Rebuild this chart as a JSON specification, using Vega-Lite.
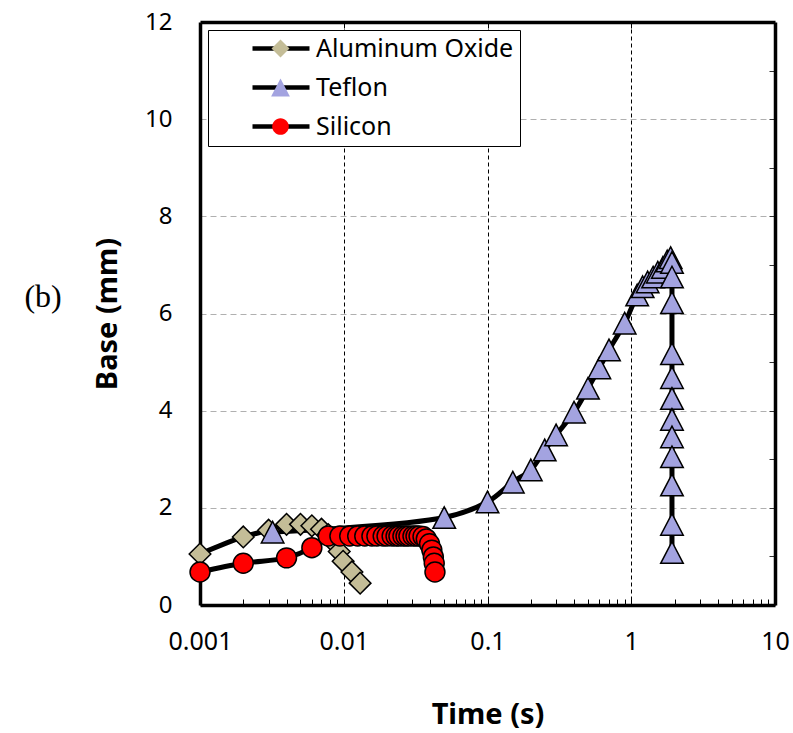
{
  "$schema": "https://vega.github.io/schema/vega-lite/v6.json",
  "width": 575,
  "height": 583,
  "autosize": {"type": "none"},
  "padding": {"left": 200, "top": 22, "right": 18, "bottom": 128},
  "background": "white",
  "config": {"view": {"stroke": null}, "font": "Noto Sans"},
  "title": {"text": "(b)", "orient": "left", "anchor": "middle", "angle": 0, "font": "Liberation Serif", "fontSize": 32, "fontWeight": "normal", "color": "black", "offset": -6, "baseline": "middle", "align": "right", "dy": -17},
  "data": {"values": [
    {"material": "Aluminum Oxide", "order": 1, "t": 0.001, "base": 1.05},
    {"material": "Aluminum Oxide", "order": 2, "t": 0.002, "base": 1.40},
    {"material": "Aluminum Oxide", "order": 3, "t": 0.003, "base": 1.54},
    {"material": "Aluminum Oxide", "order": 4, "t": 0.004, "base": 1.66},
    {"material": "Aluminum Oxide", "order": 5, "t": 0.005, "base": 1.66},
    {"material": "Aluminum Oxide", "order": 6, "t": 0.006, "base": 1.63},
    {"material": "Aluminum Oxide", "order": 7, "t": 0.007, "base": 1.56},
    {"material": "Aluminum Oxide", "order": 8, "t": 0.0078, "base": 1.45},
    {"material": "Aluminum Oxide", "order": 9, "t": 0.0086, "base": 1.28},
    {"material": "Aluminum Oxide", "order": 10, "t": 0.0093, "base": 1.1},
    {"material": "Aluminum Oxide", "order": 11, "t": 0.0099, "base": 0.9},
    {"material": "Aluminum Oxide", "order": 12, "t": 0.0114, "base": 0.68},
    {"material": "Aluminum Oxide", "order": 13, "t": 0.013, "base": 0.45},
    {"material": "Teflon", "order": 1, "t": 0.0032, "base": 1.5},
    {"material": "Teflon", "order": 2, "t": 0.05, "base": 1.8},
    {"material": "Teflon", "order": 3, "t": 0.1, "base": 2.12},
    {"material": "Teflon", "order": 4, "t": 0.15, "base": 2.53},
    {"material": "Teflon", "order": 5, "t": 0.2, "base": 2.78},
    {"material": "Teflon", "order": 6, "t": 0.25, "base": 3.19},
    {"material": "Teflon", "order": 7, "t": 0.3, "base": 3.5},
    {"material": "Teflon", "order": 8, "t": 0.4, "base": 3.97},
    {"material": "Teflon", "order": 9, "t": 0.5, "base": 4.46},
    {"material": "Teflon", "order": 10, "t": 0.6, "base": 4.88},
    {"material": "Teflon", "order": 11, "t": 0.7, "base": 5.25},
    {"material": "Teflon", "order": 12, "t": 0.9, "base": 5.8},
    {"material": "Teflon", "order": 13, "t": 1.1, "base": 6.38},
    {"material": "Teflon", "order": 14, "t": 1.2, "base": 6.55},
    {"material": "Teflon", "order": 15, "t": 1.3, "base": 6.65},
    {"material": "Teflon", "order": 16, "t": 1.42, "base": 6.75},
    {"material": "Teflon", "order": 17, "t": 1.53, "base": 6.85},
    {"material": "Teflon", "order": 18, "t": 1.66, "base": 6.95},
    {"material": "Teflon", "order": 19, "t": 1.78, "base": 7.08},
    {"material": "Teflon", "order": 20, "t": 1.88, "base": 7.15},
    {"material": "Teflon", "order": 21, "t": 1.92, "base": 7.05},
    {"material": "Teflon", "order": 22, "t": 1.92, "base": 6.75},
    {"material": "Teflon", "order": 23, "t": 1.92, "base": 6.22},
    {"material": "Teflon", "order": 24, "t": 1.92, "base": 5.17},
    {"material": "Teflon", "order": 25, "t": 1.92, "base": 4.68},
    {"material": "Teflon", "order": 26, "t": 1.92, "base": 4.25},
    {"material": "Teflon", "order": 27, "t": 1.92, "base": 3.82},
    {"material": "Teflon", "order": 28, "t": 1.92, "base": 3.46},
    {"material": "Teflon", "order": 29, "t": 1.92, "base": 3.05},
    {"material": "Teflon", "order": 30, "t": 1.92, "base": 2.47},
    {"material": "Teflon", "order": 31, "t": 1.92, "base": 1.66},
    {"material": "Teflon", "order": 32, "t": 1.92, "base": 1.08},
    {"material": "Silicon", "order": 1, "t": 0.001, "base": 0.68},
    {"material": "Silicon", "order": 2, "t": 0.002, "base": 0.86},
    {"material": "Silicon", "order": 3, "t": 0.004, "base": 0.97},
    {"material": "Silicon", "order": 4, "t": 0.006, "base": 1.18},
    {"material": "Silicon", "order": 5, "t": 0.0078, "base": 1.42},
    {"material": "Silicon", "order": 6, "t": 0.0094, "base": 1.42},
    {"material": "Silicon", "order": 7, "t": 0.011, "base": 1.42},
    {"material": "Silicon", "order": 8, "t": 0.0125, "base": 1.42},
    {"material": "Silicon", "order": 9, "t": 0.014, "base": 1.42},
    {"material": "Silicon", "order": 10, "t": 0.0157, "base": 1.42},
    {"material": "Silicon", "order": 11, "t": 0.017, "base": 1.42},
    {"material": "Silicon", "order": 12, "t": 0.0188, "base": 1.42},
    {"material": "Silicon", "order": 13, "t": 0.02, "base": 1.42},
    {"material": "Silicon", "order": 14, "t": 0.0217, "base": 1.42},
    {"material": "Silicon", "order": 15, "t": 0.0231, "base": 1.42},
    {"material": "Silicon", "order": 16, "t": 0.0242, "base": 1.42},
    {"material": "Silicon", "order": 17, "t": 0.0258, "base": 1.42},
    {"material": "Silicon", "order": 18, "t": 0.0271, "base": 1.42},
    {"material": "Silicon", "order": 19, "t": 0.0284, "base": 1.42},
    {"material": "Silicon", "order": 20, "t": 0.0303, "base": 1.42},
    {"material": "Silicon", "order": 21, "t": 0.0318, "base": 1.42},
    {"material": "Silicon", "order": 22, "t": 0.0334, "base": 1.42},
    {"material": "Silicon", "order": 23, "t": 0.0356, "base": 1.41},
    {"material": "Silicon", "order": 24, "t": 0.0375, "base": 1.36},
    {"material": "Silicon", "order": 25, "t": 0.0395, "base": 1.26},
    {"material": "Silicon", "order": 26, "t": 0.041, "base": 1.13},
    {"material": "Silicon", "order": 27, "t": 0.042, "base": 0.99},
    {"material": "Silicon", "order": 28, "t": 0.0426, "base": 0.86},
    {"material": "Silicon", "order": 29, "t": 0.0431, "base": 0.68}
  ]},
  "layer": [
    {
      "mark": {"type": "line", "interpolate": "catmull-rom", "strokeWidth": 5},
      "encoding": {
        "x": {"field": "t", "type": "quantitative", "scale": {"type": "log", "domain": [0.001, 10]},
          "axis": {
            "orient": "bottom",
            "values": [0.001, 0.002, 0.003, 0.004, 0.005, 0.006, 0.007, 0.008, 0.009, 0.01, 0.02, 0.03, 0.04, 0.05, 0.06, 0.07, 0.08, 0.09, 0.1, 0.2, 0.3, 0.4, 0.5, 0.6, 0.7, 0.8, 0.9, 1, 2, 3, 4, 5, 6, 7, 8, 9, 10],
            "format": "~g",
            "labelExpr": "(datum.value == 0.001 || datum.value == 0.01 || datum.value == 0.1 || datum.value == 1 || datum.value == 10) ? datum.label : ''",
            "labelFont": "Noto Sans", "labelFontSize": 25, "labelColor": "black", "labelPadding": 30,
            "labelFlush": false, "labelOverlap": false, "labelBound": false,
            "ticks": true, "tickSize": -6, "tickColor": "black", "tickWidth": 1,
            "domain": true, "domainColor": "black", "domainWidth": 3.5,
            "grid": true, "gridColor": "black", "gridDash": [4, 3], "gridWidth": 1,
            "gridOpacity": {"condition": {"test": "datum.value == 0.01 || datum.value == 0.1 || datum.value == 1", "value": 1}, "value": 0},
            "title": "Time (s)", "titleFont": "Noto Sans", "titleFontSize": 29, "titleFontWeight": "bold", "titleColor": "black",
            "titleY": 118, "titleBaseline": "alphabetic"
          }
        },
        "y": {"field": "base", "type": "quantitative", "scale": {"domain": [0, 12]},
          "axis": {
            "orient": "left",
            "values": [0, 2, 4, 6, 8, 10, 12],
            "labelFont": "Noto Sans", "labelFontSize": 24, "labelColor": "black", "labelPadding": 28,
            "ticks": false,
            "domain": true, "domainColor": "black", "domainWidth": 3.5,
            "grid": true, "gridColor": "#b0b0b0", "gridDash": [6, 4], "gridWidth": 1,
            "gridOpacity": {"condition": {"test": "datum.value == 0 || datum.value == 12", "value": 0}, "value": 1},
            "title": "Base (mm)", "titleFont": "Noto Sans", "titleFontSize": 29, "titleFontWeight": "bold", "titleColor": "black",
            "titleX": -84, "titleBaseline": "alphabetic"
          }
        },
        "color": {"field": "material", "type": "nominal",
          "scale": {"domain": ["Silicon", "Teflon", "Aluminum Oxide"], "range": ["black", "black", "black"]},
          "legend": {
            "title": null, "orient": "none", "legendX": 8, "legendY": 8, "padding": 6,
            "strokeColor": "black", "fillColor": "white",
            "labelFont": "Noto Sans", "labelFontSize": 25, "labelColor": "black", "labelOpacity": 0, "labelLimit": 900, "labelOffset": 23,
            "rowPadding": 13, "symbolSize": 400, "symbolOffset": 54, "symbolType": "M-2.8,0H2.9", "symbolStrokeWidth": 4.5,
            "labelExpr": "datum.label == 'Aluminum Oxide' ? '\u00a0\u00a0Aluminum Oxide\u00a0\u00a0\u00a0\u00a0\u00a0\u00a0\u00a0\u00a0\u00a0\u00a0\u00a0\u00a0\u00a0\u00a0\u00a0\u00a0\u00a0\u00a0\u00a0\u00a0\u00a0' : datum.label"
          }
        },
        "order": {"field": "order", "type": "quantitative"}
      }
    },
    {
      "mark": {"type": "point", "filled": true, "stroke": "black", "strokeWidth": 1.5, "opacity": 1, "size": 576},
      "encoding": {
        "x": {"field": "t", "type": "quantitative", "scale": {"type": "log", "domain": [0.001, 10]},
          "axis": {"orient": "top", "values": [0.01, 0.1, 1], "labels": false, "ticks": true, "tickSize": -6, "tickColor": "black", "domain": true, "domainColor": "black", "domainWidth": 3.5, "grid": false, "title": null}
        },
        "y": {"field": "base", "type": "quantitative", "scale": {"domain": [0, 12]},
          "axis": {"orient": "right", "values": [1, 2, 3, 4, 5, 6, 7, 8, 9, 10, 11], "labels": false, "ticks": true, "tickSize": -6, "tickColor": "#333333", "domain": true, "domainColor": "black", "domainWidth": 3.5, "grid": false, "title": null}
        },
        "fill": {"field": "material", "type": "nominal",
          "scale": {"domain": ["Aluminum Oxide", "Teflon", "Silicon"], "range": ["#C4BD97", "#A3A3E0", "#FF0000"]},
          "legend": {
            "title": null, "orient": "none", "legendX": 8, "legendY": 8, "padding": 6,
            "labelFont": "Noto Sans", "labelFontSize": 25, "labelColor": "black", "labelLimit": 900, "labelOffset": 23,
            "rowPadding": 13, "symbolSize": 400, "symbolOffset": 54, "symbolStrokeWidth": 1.5, "symbolStrokeColor": "black", "symbolOpacity": 1,
            "labelExpr": "datum.label == 'Aluminum Oxide' ? '\u00a0\u00a0Aluminum Oxide\u00a0\u00a0\u00a0\u00a0\u00a0\u00a0\u00a0\u00a0\u00a0\u00a0\u00a0\u00a0\u00a0\u00a0\u00a0\u00a0\u00a0\u00a0\u00a0\u00a0\u00a0' : datum.label"
          }
        },
        "shape": {"field": "material", "type": "nominal",
          "scale": {"domain": ["Aluminum Oxide", "Teflon", "Silicon"], "range": ["M-0.9,0L0,-0.9L0.9,0L0,0.9Z", "M0,-0.9L0.94,0.9L-0.94,0.9Z", "M-0.83,0A0.83,0.83,0,1,0,0.83,0A0.83,0.83,0,1,0,-0.83,0Z"]},
          "legend": {
            "title": null, "orient": "none", "legendX": 8, "legendY": 8, "padding": 6,
            "labelFont": "Noto Sans", "labelFontSize": 25, "labelColor": "black", "labelLimit": 900, "labelOffset": 23,
            "rowPadding": 13, "symbolSize": 400, "symbolOffset": 54, "symbolStrokeWidth": 1.5, "symbolStrokeColor": "black", "symbolOpacity": 1,
            "labelExpr": "datum.label == 'Aluminum Oxide' ? '\u00a0\u00a0Aluminum Oxide\u00a0\u00a0\u00a0\u00a0\u00a0\u00a0\u00a0\u00a0\u00a0\u00a0\u00a0\u00a0\u00a0\u00a0\u00a0\u00a0\u00a0\u00a0\u00a0\u00a0\u00a0' : datum.label"
          }
        }
      }
    }
  ],
  "resolve": {"axis": {"x": "independent", "y": "independent"}}
}
